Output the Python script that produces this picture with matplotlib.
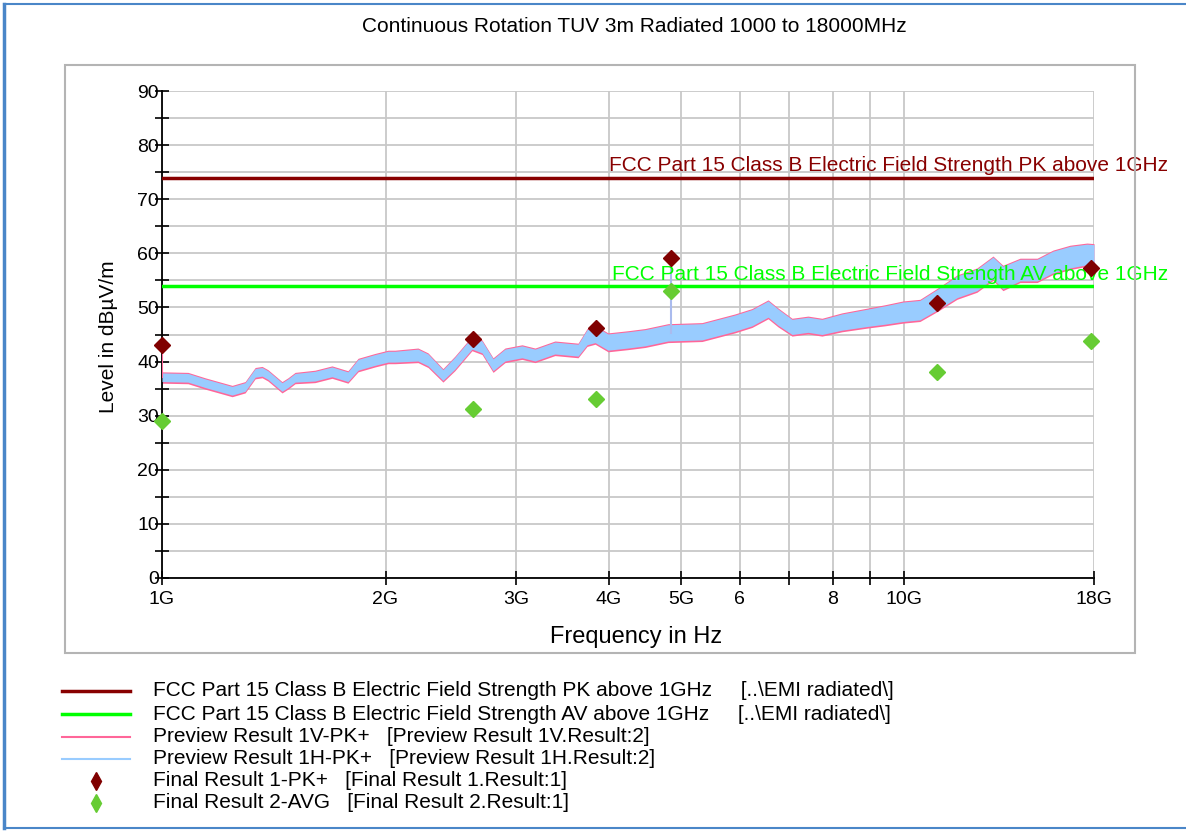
import numpy as np
import matplotlib
matplotlib.use('Agg')
import matplotlib.pyplot as plt
from matplotlib.lines import Line2D
from matplotlib.patches import Rectangle
from matplotlib.ticker import FixedLocator, FixedFormatter, NullLocator, MultipleLocator

plt.rcParams['font.family'] = ['Liberation Sans', 'DejaVu Sans']

title = "Continuous Rotation TUV 3m Radiated 1000 to 18000MHz"

# limit lines
pk_name = "FCC Part 15 Class B Electric Field Strength PK above 1GHz"
av_name = "FCC Part 15 Class B Electric Field Strength AV above 1GHz"
limit_ghz = [1.0, 18.0]
pk_limit = [74.0, 74.0]
av_limit = [54.0, 54.0]

# preview scan: centre of the noisy band and its half width
preview_ghz = [1.0, 1.084, 1.143, 1.243, 1.294, 1.335, 1.364, 1.389, 1.451, 1.478,
               1.511, 1.607, 1.694, 1.780, 1.837, 1.936, 2.016, 2.060, 2.212, 2.282,
               2.390, 2.480, 2.615, 2.698, 2.792, 2.897, 3.054, 3.180, 3.382, 3.634,
               3.737, 3.831, 3.988, 4.243, 4.473, 4.803, 5.337, 5.911, 6.232, 6.551,
               6.757, 7.056, 7.414, 7.743, 8.237, 8.929, 9.412, 9.953, 10.49, 11.06,
               11.77, 12.52, 13.16, 13.57, 14.31, 15.09, 15.85, 16.71, 17.61, 18.0]
preview_level = [37.1, 37.0, 36.0, 34.6, 35.3, 37.9, 38.1, 37.5, 35.3, 36.0,
                 37.0, 37.3, 38.1, 37.2, 39.4, 40.3, 40.9, 40.9, 41.2, 40.3,
                 37.5, 39.7, 43.4, 42.7, 39.4, 41.2, 41.8, 41.2, 42.5, 42.1,
                 44.5, 45.0, 43.6, 44.0, 44.4, 45.3, 45.5, 47.1, 48.1, 49.7,
                 48.2, 46.4, 46.8, 46.4, 47.3, 48.1, 48.6, 49.2, 49.5, 51.4,
                 53.8, 55.1, 57.3, 55.5, 56.9, 56.9, 58.4, 59.3, 59.8, 59.7]
preview_spread = [0.8, 0.8, 0.8, 0.8, 0.8, 0.8, 0.8, 0.8, 0.8, 0.8,
                  0.8, 0.9, 0.9, 0.9, 1.0, 1.0, 1.0, 1.0, 1.1, 1.1,
                  1.0, 1.1, 1.1, 1.1, 1.1, 1.1, 1.1, 1.1, 1.1, 1.1,
                  1.4, 1.5, 1.5, 1.5, 1.5, 1.5, 1.5, 1.5, 1.5, 1.5,
                  1.5, 1.4, 1.4, 1.4, 1.5, 1.6, 1.7, 1.8, 1.8, 1.9,
                  2.0, 2.0, 2.0, 2.1, 2.0, 2.0, 2.0, 2.0, 1.9, 1.9]

# narrow spikes in the two preview traces
spike_v_ghz = [1.0]
spike_v_level = [43.0]
spike_h_ghz = [4.85]
spike_h_level = [59.0]

# final measurements
final_ghz = [1.0, 2.62, 3.84, 4.85, 11.06, 17.83]
final_pk = [43.1, 44.2, 46.2, 59.1, 50.8, 57.3]
final_avg = [29.0, 31.2, 33.1, 53.1, 38.0, 43.8]

xtick_ghz = [1, 2, 3, 4, 5, 6, 7, 8, 9, 10, 18]
xtick_labels = ['1G', '2G', '3G', '4G', '5G', '6', '', '8', '', '10G', '18G']

legend_names = [pk_name + "     [..\\EMI radiated\\]",
                av_name + "     [..\\EMI radiated\\]",
                "Preview Result 1V-PK+   [Preview Result 1V.Result:2]",
                "Preview Result 1H-PK+   [Preview Result 1H.Result:2]",
                "Final Result 1-PK+   [Final Result 1.Result:1]",
                "Final Result 2-AVG   [Final Result 2.Result:1]"]

c_pk_line = '#880000'
c_av_line = '#00ff00'
c_pink = '#ff6699'
c_blue = '#99ccff'
c_pk_mark = '#800000'
c_av_mark = '#66cc33'

W, H = 1186, 831
fig = plt.figure(figsize=(W / 100, H / 100), dpi=100)

# outer borders and inner frame
fig.add_artist(Line2D([4 / W, 4 / W], [1 - 4 / H, 1 - 828 / H], color='#4a86c8', lw=2.5))
fig.add_artist(Line2D([4 / W, 1], [1 - 4 / H, 1 - 4 / H], color='#4a86c8', lw=1.5))
fig.add_artist(Line2D([4 / W, 1], [1 - 828 / H, 1 - 828 / H], color='#4a86c8', lw=1.5))
fig.add_artist(Rectangle((65 / W, 1 - 653 / H), 1070 / W, 588 / H, fill=False,
                         edgecolor='#b4b4b4', lw=1.5))

fig.text(634 / W, 1 - 27 / H, title, ha='center', va='center', fontsize=15)

ax = fig.add_axes([162 / W, 1 - 578 / H, 932 / W, 487 / H])
ax.set_xscale('log')

f = np.array(preview_ghz) * 1e9
lvl = np.array(preview_level)
sp = np.array(preview_spread)
ax.fill_between(f, lvl - sp - 0.3, lvl + sp + 0.2, color=c_pink, lw=0, zorder=2)
ax.fill_between(f, lvl - sp, lvl + sp, color=c_blue, lw=0, zorder=3)
for fx, ly in zip(spike_v_ghz, spike_v_level):
    ax.plot([fx * 1e9, fx * 1e9], [np.interp(fx, preview_ghz, preview_level), ly],
            color=c_pink, lw=1.5, zorder=3)
for fx, ly in zip(spike_h_ghz, spike_h_level):
    ax.plot([fx * 1e9, fx * 1e9], [np.interp(fx, preview_ghz, preview_level), ly],
            color='#aabbee', lw=1.5, zorder=3)

lg = np.array(limit_ghz) * 1e9
ax.plot(lg, pk_limit, color=c_pk_line, lw=2.5, zorder=4)
ax.plot(lg, av_limit, color=c_av_line, lw=2.5, zorder=4)
ax.text((1168 - 162) / 932, pk_limit[0] + 0.4, pk_name, transform=ax.get_yaxis_transform(),
        ha='right', va='bottom', color=c_pk_line, fontsize=15, clip_on=False, zorder=5)
ax.text((1168 - 162) / 932, av_limit[0] + 0.4, av_name, transform=ax.get_yaxis_transform(),
        ha='right', va='bottom', color=c_av_line, fontsize=15, clip_on=False, zorder=5)

fg = np.array(final_ghz) * 1e9
ax.plot(fg, final_pk, ls='none', marker='D', ms=8, color=c_pk_mark, mec=c_pk_mark, zorder=6, clip_on=False)
ax.plot(fg, final_avg, ls='none', marker='D', ms=8, color=c_av_mark, mec=c_av_mark, zorder=6, clip_on=False)

ax.set_xlim(1e9, 18e9)
ax.set_ylim(0, 90)
ax.xaxis.set_major_locator(FixedLocator([g * 1e9 for g in xtick_ghz]))
ax.xaxis.set_major_formatter(FixedFormatter(xtick_labels))
ax.xaxis.set_minor_locator(NullLocator())
ax.yaxis.set_major_locator(MultipleLocator(10))
ax.yaxis.set_minor_locator(MultipleLocator(5))

ax.grid(True, which='major', color='#c8c8c8', lw=1.3)
ax.grid(True, which='minor', axis='y', color='#c8c8c8', lw=1.3)
ax.set_axisbelow(True)
for s in ['top', 'right']:
    ax.spines[s].set_visible(False)
for s in ['left', 'bottom']:
    ax.spines[s].set_linewidth(1.3)
ax.tick_params(axis='both', which='both', direction='inout', length=10, width=1.2)
ax.tick_params(axis='y', labelsize=14, pad=-3)
ax.tick_params(axis='x', labelsize=14, pad=4)

fig.text(636 / W, 1 - 637 / H, "Frequency in Hz", ha='center', va='center', fontsize=17)
fig.text(108 / W, 1 - 337 / H, "Level in dBµV/m", ha='center', va='center', fontsize=15, rotation=90)

# legend drawn by hand below the frame
row_y = [691, 714, 737, 759, 781, 803]
handles = [('line', c_pk_line, 2.5), ('line', c_av_line, 2.5), ('line', c_pink, 1.5),
           ('line', c_blue, 1.5), ('mark', c_pk_mark, 0), ('mark', c_av_mark, 0)]
for y, name, (kind, col, lw) in zip(row_y, legend_names, handles):
    yy = 1 - y / H
    if kind == 'line':
        fig.add_artist(Line2D([62 / W, 130 / W], [yy, yy], color=col, lw=lw))
    else:
        fig.add_artist(Line2D([96 / W], [yy], ls='none', marker='d', ms=9, color=col, mec=col))
    fig.text(153 / W, yy, name, ha='left', va='center', fontsize=15)

fig.savefig('out.png', dpi=100)
